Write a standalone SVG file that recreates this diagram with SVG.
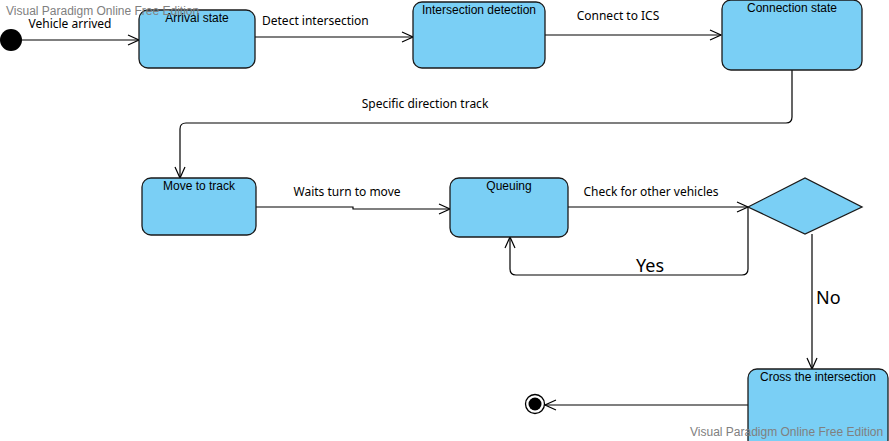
<svg xmlns="http://www.w3.org/2000/svg" width="889" height="441" viewBox="0 0 889 441">
<defs>
<style>
.node{fill:#7acff5;stroke:#1a1a1a;stroke-width:1.3}
.nl{font-family:"Liberation Sans",Arial,sans-serif;font-size:12px;fill:#000;text-anchor:middle}
.el{font-family:"Noto Sans","Open Sans",sans-serif;font-size:12px;fill:#000}
.big{font-family:"Noto Sans","Open Sans",sans-serif;font-size:18px;fill:#000}
.wm{font-family:"Liberation Sans",Arial,sans-serif;font-size:12px;fill:#808080}
.c{fill:none;stroke:#000;stroke-width:1.2}
</style>
<marker id="a" markerWidth="14" markerHeight="12" refX="12" refY="6" orient="auto" markerUnits="userSpaceOnUse">
<path d="M1,1 L12,6 L1,11" fill="none" stroke="#000" stroke-width="1.2"/>
</marker>
</defs>
<rect width="889" height="441" fill="#fff"/>
<g id="connectors">
<path class="c" d="M22,40 H139" marker-end="url(#a)"/>
<path class="c" d="M255,37 H413" marker-end="url(#a)"/>
<path class="c" d="M545,35 H721" marker-end="url(#a)"/>
<path class="c" d="M792,70 V117 Q792,123 786,123 H186 Q180,123 180,129 V178" marker-end="url(#a)"/>
<path class="c" d="M256,207 H353 V209 H450" marker-end="url(#a)"/>
<path class="c" d="M568,207 H748" marker-end="url(#a)"/>
<path class="c" d="M748,207 V269 Q748,275 742,275 H516 Q510,275 510,269 V237" marker-end="url(#a)"/>
<path class="c" d="M812,234 V369" marker-end="url(#a)"/>
<path class="c" d="M748,405 H545" marker-end="url(#a)"/>
<text class="el" x="70" y="28" text-anchor="middle">Vehicle arrived</text>
<text class="el" x="262" y="25">Detect intersection</text>
<text class="el" x="618" y="20" text-anchor="middle">Connect to ICS</text>
<text class="el" x="425" y="108" text-anchor="middle">Specific direction track</text>
<text class="el" x="347" y="196" text-anchor="middle">Waits turn to move</text>
<text class="el" x="651" y="196" text-anchor="middle">Check for other vehicles</text>
<text class="big" x="650" y="272" text-anchor="middle">Yes</text>
<text class="big" x="816" y="304">No</text>
</g>
<g id="start"><circle cx="11" cy="40" r="11" fill="#000"/></g>
<g id="arrival"><rect class="node" x="139" y="10" width="116" height="58" rx="9"/><text class="nl" x="197" y="22">Arrival state</text></g>
<g id="detection"><rect class="node" x="413" y="2" width="132" height="66" rx="9"/><text class="nl" x="479" y="14">Intersection detection</text></g>
<g id="connection"><rect class="node" x="722" y="0" width="140" height="70" rx="9"/><text class="nl" x="792" y="12">Connection state</text></g>
<g id="move"><rect class="node" x="142" y="178" width="114" height="57" rx="9"/><text class="nl" x="199" y="190">Move to track</text></g>
<g id="queuing"><rect class="node" x="450" y="178" width="118" height="59" rx="9"/><text class="nl" x="509" y="190">Queuing</text></g>
<g id="decision"><polygon class="node" points="748,207 805,178 862,207 805,234"/></g>
<g id="cross"><rect class="node" x="748" y="369" width="140" height="80" rx="9"/><text class="nl" x="818" y="381">Cross the intersection</text></g>
<g id="end"><circle cx="535" cy="404" r="9.5" fill="#fff" stroke="#000" stroke-width="1.3"/><circle cx="535" cy="404" r="6.5" fill="#000"/></g>
<text class="wm" x="6" y="15">Visual Paradigm Online Free Edition</text>
<text class="wm" x="690" y="436">Visual Paradigm Online Free Edition</text>
</svg>
